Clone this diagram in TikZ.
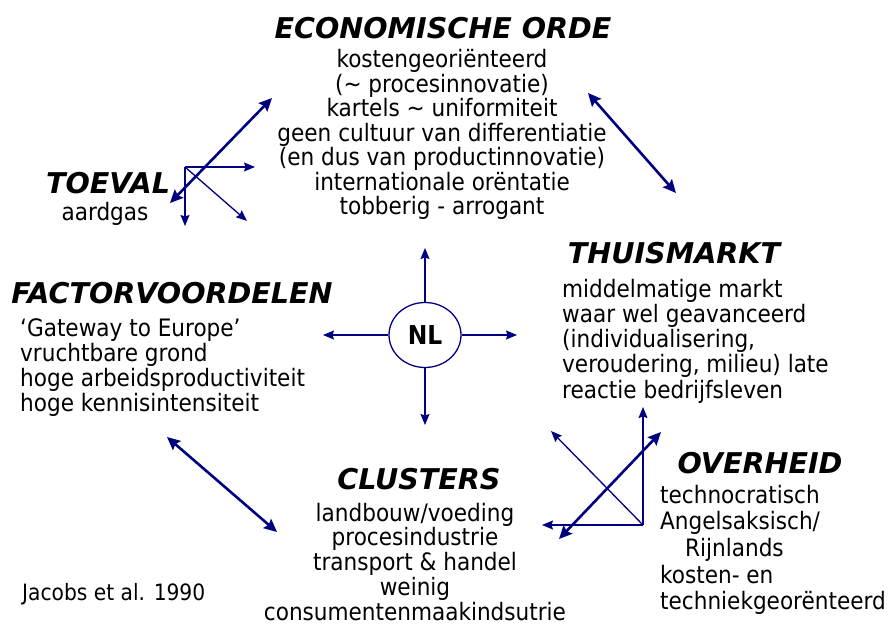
\documentclass[tikz,border=0pt]{standalone}
\usepackage{fontspec}
\usetikzlibrary{arrows.meta,shapes.geometric}
\newfontfamily\bodyf{DejaVu Sans Condensed}
\newfontfamily\titlef{DejaVu Sans}
\definecolor{navy}{RGB}{0,0,128}
\tikzset{
  body/.style={font=\bodyf\fontsize{24}{28}\selectfont, inner sep=0pt, text=black},
  small/.style={font=\bodyf\fontsize{22.5}{26}\selectfont, inner sep=0pt},
  ttl/.style={font=\titlef\bfseries\itshape\fontsize{28.6}{32}\selectfont, inner sep=0pt},
  thin/.style={navy, line width=1.3pt, -{Stealth[length=11pt,width=9pt,inset=1.5pt]}},
  thick/.style={navy, line width=2.6pt, {Stealth[length=13pt,width=12pt,inset=2pt]}-{Stealth[length=13pt,width=12pt,inset=2pt]}},
}
\begin{document}
\begin{tikzpicture}[x=1pt,y=-1pt]
\useasboundingbox (0,0) rectangle (895,626);
% ECONOMISCHE ORDE
\node[ttl, anchor=base] (teco) at (443,39) {ECONOMISCHE ORDE};
\foreach \t [count=\i] in {kostengeoriënteerd,(\textasciitilde{} procesinnovatie),kartels \textasciitilde{} uniformiteit,geen cultuur van differentiatie,(en dus van productinnovatie),internationale orëntatie,tobberig - arrogant}
  \node[body, anchor=base] (eco\i) at (442,{68+24.4*(\i-1)}) {\t};
% TOEVAL
\node[ttl, anchor=base] (ttoe) at (108,193) {TOEVAL};
\node[body, anchor=base] (toe1) at (105,220) {aardgas};
% THUISMARKT
\node[ttl, anchor=base] (tthu) at (674,263) {THUISMARKT};
\foreach \t [count=\i] in {middelmatige markt,waar wel geavanceerd,{(individualisering,},{veroudering, milieu) late},reactie bedrijfsleven}
  \node[body, anchor=base west] (thu\i) at (562,{297+25.3*(\i-1)}) {\t};
% FACTORVOORDELEN
\node[ttl, anchor=base] (tfac) at (172,303) {FACTORVOORDELEN};
\foreach \t [count=\i] in {‘Gateway to Europe’,vruchtbare grond,hoge arbeidsproductiviteit,hoge kennisintensiteit}
  \node[body, anchor=base west] (fac\i) at (20,{336+25*(\i-1)}) {\t};
% CLUSTERS
\node[ttl, anchor=base] (tclu) at (419,489) {CLUSTERS};
\foreach \t [count=\i] in {landbouw/voeding,procesindustrie,transport \& handel,weinig,consumentenmaakindsutrie}
  \node[body, anchor=base] (clu\i) at (415,{521+24.75*(\i-1)}) {\t};
% OVERHEID
\node[ttl, anchor=base] (tove) at (760,473) {OVERHEID};
\node[body, anchor=base west] (ove1) at (660,503) {technocratisch};
\node[body, anchor=base west] (ove2) at (660,529) {Angelsaksisch/};
\node[body, anchor=base west] (ove3) at (685,556) {Rijnlands};
\node[body, anchor=base west] (ove4) at (660,583) {kosten- en};
\node[body, anchor=base west] (ove5) at (660,609) {techniekgeorënteerd};
% source
\node[small, anchor=base west] (src) at (22,600) {Jacobs et al. 1990};
% NL
\node[ellipse, draw=navy, line width=1.3pt, minimum width=72pt, minimum height=65pt, inner sep=0pt,
  font=\bodyf\bfseries\fontsize{26}{28}\selectfont] (nl) at (425,335) {NL};
\coordinate (nlu) at (425,248);
\coordinate (nld) at (425,425);
\coordinate (nll) at (323,335);
\coordinate (nlr) at (517,335);
\draw[thin] (nl.north) -- (nlu);
\draw[thin] (nl.south) -- (nld);
\draw[thin] (nl.west) -- (nll);
\draw[thin] (nl.east) -- (nlr);
% TOEVAL arrows
\coordinate (to) at (185,167);
\coordinate (tr) at (255,167);
\coordinate (td) at (185,226);
\coordinate (tg) at (247,221);
\draw[thin] (to) -- (tr);
\draw[thin] (to) -- (td);
\draw[thin] (to) -- (tg);
\coordinate (ta) at (272,98);
\coordinate (tb) at (170,203);
\draw[thick] (tb) -- (ta);
% economic <-> thuismarkt
\coordinate (ea) at (588,93);
\coordinate (eb) at (676,193);
\draw[thick] (ea) -- (eb);
% factor <-> clusters
\coordinate (fa) at (167,437);
\coordinate (fb) at (277,532);
\draw[thick] (fa) -- (fb);
% OVERHEID arrows
\coordinate (oo) at (643,525);
\coordinate (ou) at (643,407);
\coordinate (ol) at (542,525);
\coordinate (og) at (551,431);
\draw[thin] (oo) -- (ou);
\draw[thin] (oo) -- (ol);
\draw[thin] (oo) -- (og);
\coordinate (oa) at (559,539);
\coordinate (ob) at (661,432);
\draw[thick] (oa) -- (ob);
\end{tikzpicture}
\end{document}
